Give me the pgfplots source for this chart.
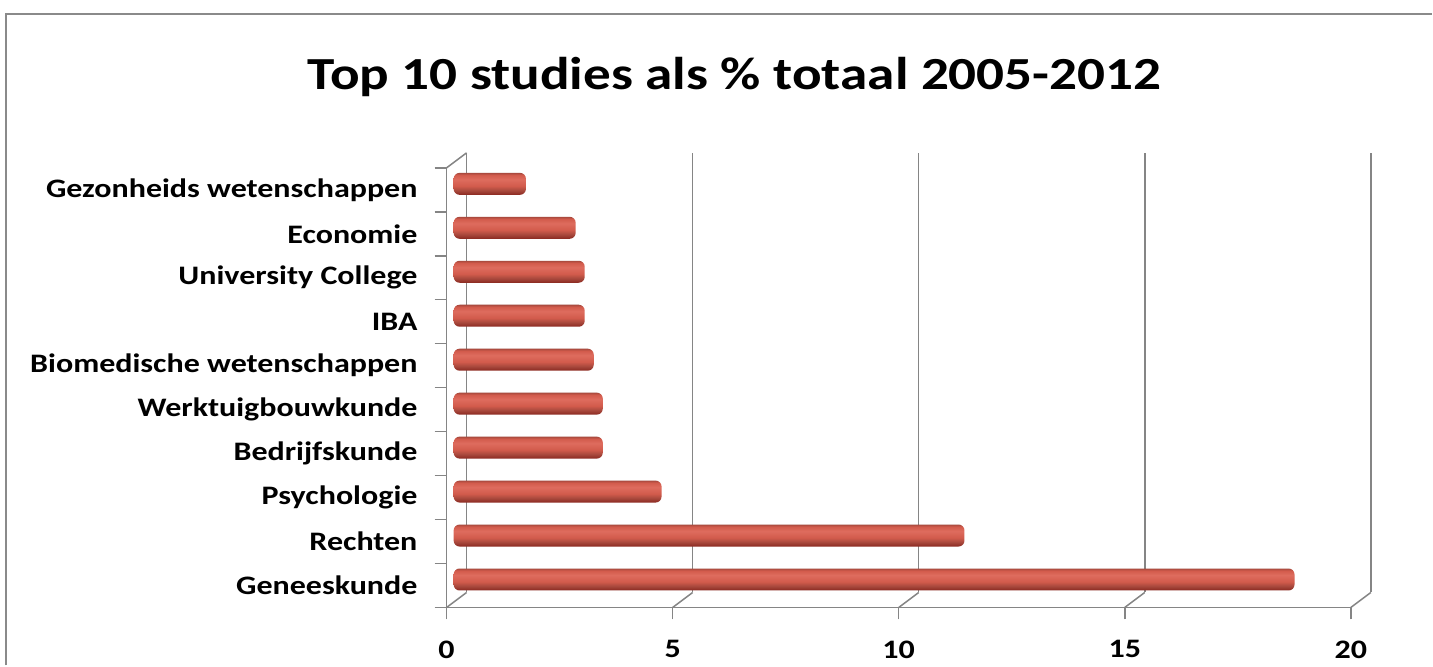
\documentclass[border=0pt]{standalone}
\usepackage{fontspec}
\setmainfont{Carlito}
\usepackage{graphicx}
\usepackage{pgfplots}
\pgfplotsset{compat=1.18}

\definecolor{framegray}{HTML}{8A8A8A}
\definecolor{gridgray}{HTML}{858585}
\definecolor{barlight}{HTML}{DE6C5E}
\definecolor{barmid}{HTML}{D25B4C}
\definecolor{bardark}{HTML}{8A2820}

% the reference is stretched sideways, so is the text
\newcommand\sx[1]{\scalebox{1.2}[1]{#1}}

\pgfdeclareverticalshading{cyl}{100bp}{color(0bp)=(bardark); color(25bp)=(bardark);
  color(35bp)=(barmid!80!black); color(45bp)=(barmid); color(60bp)=(barlight); color(70bp)=(barmid);
  color(75bp)=(barmid!80!black); color(100bp)=(barmid!80!black)}

\pgfplotsset{cylbar/.style={xbar, bar width=22pt, bar shift=6pt, xshift=7pt,
  draw=none, rounded corners=6pt, shade, shading=cyl}}

\begin{document}
\begin{tikzpicture}
\fill[white] (0pt,0pt) rectangle (1433pt,666pt);
\draw[framegray, line width=2.5pt] (6pt,0pt) -- (6pt,652pt) -- (1433pt,652pt);
\node[anchor=base, font=\bfseries\fontsize{46}{46}\selectfont] at (735pt,576pt)
  {\sx{Top 10 studies als \% totaal 2005-2012}};

\begin{axis}[
  at={(447pt,58pt)}, anchor=south west,
  scale only axis, width=905pt, height=440pt,
  xmin=0, xmax=20, ymin=-0.5, ymax=9.5,
  axis x line=bottom, axis y line=left,
  axis line style={-, gridgray, line width=1.5pt},
  xtick={0,5,10,15,20},
  xticklabels={\sx{0},\sx{5},\sx{10},\sx{15},\sx{20}},
  ytick={0,...,9},
  yticklabels={\sx{Geneeskunde}, \sx{Rechten}, \sx{Psychologie}, \sx{Bedrijfskunde},
    \sx{Werktuigbouwkunde}, \sx{Biomedische wetenschappen}, \sx{IBA},
    \sx{University College}, \sx{Economie}, \sx{Gezonheids wetenschappen}},
  tick align=outside,
  major tick length=12pt,
  xtick style={gridgray, line width=1.5pt},
  ytick style={draw=none},
  extra y ticks={-0.5,0.5,...,9.5},
  extra y tick labels={},
  extra y tick style={ytick style={draw=gridgray, line width=1.5pt}},
  ticklabel style={font=\bfseries\fontsize{26.7}{27}\selectfont},
  yticklabel style={inner sep=0pt, xshift=-17pt},
  xticklabel style={inner sep=0pt, yshift=-21pt},
  clip=false,
]
\draw[gridgray, line width=1.5pt] ([shift={(20pt,15pt)}]axis cs:0,-0.5) -- ([shift={(20pt,15pt)}]axis cs:0,9.5);
\draw[gridgray, line width=1.5pt] ([shift={(20pt,15pt)}]axis cs:5,-0.5) -- ([shift={(20pt,15pt)}]axis cs:5,9.5);
\draw[gridgray, line width=1.5pt] ([shift={(20pt,15pt)}]axis cs:10,-0.5) -- ([shift={(20pt,15pt)}]axis cs:10,9.5);
\draw[gridgray, line width=1.5pt] ([shift={(20pt,15pt)}]axis cs:15,-0.5) -- ([shift={(20pt,15pt)}]axis cs:15,9.5);
\draw[gridgray, line width=1.5pt] ([shift={(20pt,15pt)}]axis cs:20,-0.5) -- ([shift={(20pt,15pt)}]axis cs:20,9.5);
\draw[gridgray, line width=1.5pt] (axis cs:0,-0.5) -- ([shift={(20pt,15pt)}]axis cs:0,-0.5);
\draw[gridgray, line width=1.5pt] (axis cs:5,-0.5) -- ([shift={(20pt,15pt)}]axis cs:5,-0.5);
\draw[gridgray, line width=1.5pt] (axis cs:10,-0.5) -- ([shift={(20pt,15pt)}]axis cs:10,-0.5);
\draw[gridgray, line width=1.5pt] (axis cs:15,-0.5) -- ([shift={(20pt,15pt)}]axis cs:15,-0.5);
\draw[gridgray, line width=1.5pt] (axis cs:20,-0.5) -- ([shift={(20pt,15pt)}]axis cs:20,-0.5);
\draw[gridgray, line width=1.5pt] (axis cs:0,9.5) -- ([shift={(20pt,15pt)}]axis cs:0,9.5);

% one plot per bar so that each bar gets its own cylinder shading
\addplot[cylbar] coordinates {(18.6,0)};
\addplot[cylbar] coordinates {(11.3,1)};
\addplot[cylbar] coordinates {(4.6,2)};
\addplot[cylbar] coordinates {(3.3,3)};
\addplot[cylbar] coordinates {(3.3,4)};
\addplot[cylbar] coordinates {(3.1,5)};
\addplot[cylbar] coordinates {(2.9,6)};
\addplot[cylbar] coordinates {(2.9,7)};
\addplot[cylbar] coordinates {(2.7,8)};
\addplot[cylbar] coordinates {(1.6,9)};
\end{axis}
\end{tikzpicture}
\end{document}
